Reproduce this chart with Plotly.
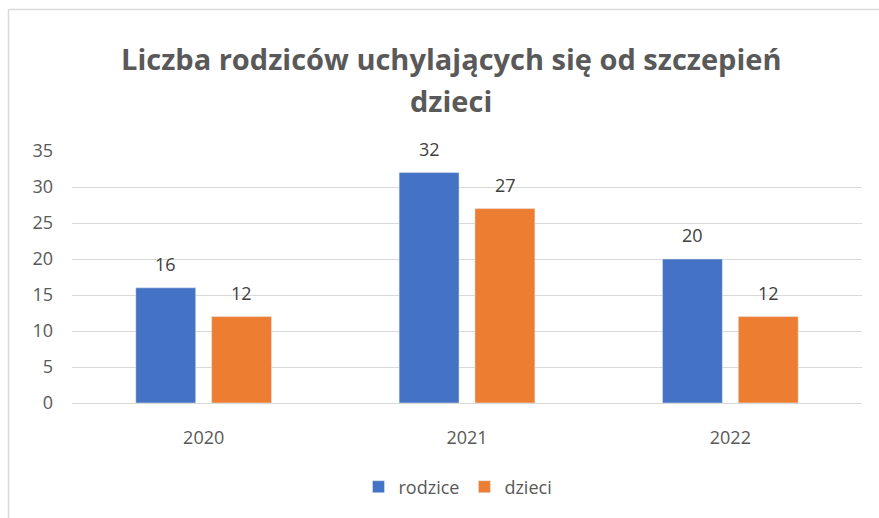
import plotly.graph_objects as go

years = ["2020", "2021", "2022"]
rodzice = [16, 32, 20]
dzieci = [12, 27, 12]
series_names = ["rodzice", "dzieci"]
title_lines = ["Liczba rodziców uchylających się od szczepień", "dzieci"]
y_ticks = [0, 5, 10, 15, 20, 25, 30, 35]

W, H = 879, 518
L, R, T, B = 72, 17, 151, 115
PW, PH = W - L - R, H - T - B

def px_x(x):
    return (x - L) / PW

def px_y(y):
    return (H - B - y) / PH

BLUE = "#4472C4"
ORANGE = "#ED7D31"
FONT = "Open Sans"

fig = go.Figure()
fig.add_trace(go.Bar(x=years, y=rodzice, name=series_names[0], marker_color=BLUE))
fig.add_trace(go.Bar(x=years, y=dzieci, name=series_names[1], marker_color=ORANGE))

annotations = []
for vals, shift in ((rodzice, -38), (dzieci, 38)):
    for i, v in enumerate(vals):
        annotations.append(dict(x=i, y=v, xref="x", yref="y", text=str(v), showarrow=False,
                                xshift=shift, yshift=24, yanchor="middle",
                                font=dict(family=FONT, size=18, color="#404040")))
for txt, ypx in zip(title_lines, (58, 100)):
    annotations.append(dict(x=px_x(451), y=px_y(ypx), xref="paper", yref="paper", text="<b>%s</b>" % txt,
                            showarrow=False, xanchor="center", yanchor="middle",
                            font=dict(family=FONT, size=29, color="#595959")))

shapes = [
    dict(type="line", xref="paper", yref="paper", x0=px_x(8.5), x1=px_x(W), y0=px_y(9.5), y1=px_y(9.5),
         line=dict(color="#D9D9D9", width=1.5)),
    dict(type="line", xref="paper", yref="paper", x0=px_x(8.5), x1=px_x(8.5), y0=px_y(9.5), y1=px_y(H),
         line=dict(color="#D9D9D9", width=1.5)),
]

fig.update_layout(
    width=W, height=H,
    margin=dict(l=L, r=R, t=T, b=B, pad=0),
    paper_bgcolor="white", plot_bgcolor="white",
    barmode="group", bargap=0.424, bargroupgap=0.21,
    font=dict(family=FONT, color="#595959"),
    showlegend=True,
    legend=dict(orientation="h", x=px_x(458), y=px_y(487), xanchor="center", yanchor="middle",
                font=dict(family=FONT, size=18, color="#595959"), itemwidth=30, traceorder="normal"),
    annotations=annotations,
    shapes=shapes,
)
fig.update_yaxes(range=[0, 35], tickvals=y_ticks, showgrid=True, gridcolor="#D9D9D9", gridwidth=1,
                 zeroline=True, zerolinecolor="#D9D9D9", zerolinewidth=1, showline=False,
                 tickfont=dict(family=FONT, size=18, color="#595959"), ticks="", ticklabelstandoff=18)
fig.update_xaxes(type="category", range=[-0.5, len(years) - 0.5], showline=False, ticks="",
                 tickfont=dict(family=FONT, size=18, color="#595959"), ticklabelstandoff=22)

fig.write_html("out.html", config={"displayModeBar": False},
               post_script="document.body.style.margin='0';document.body.style.overflow='hidden';")
